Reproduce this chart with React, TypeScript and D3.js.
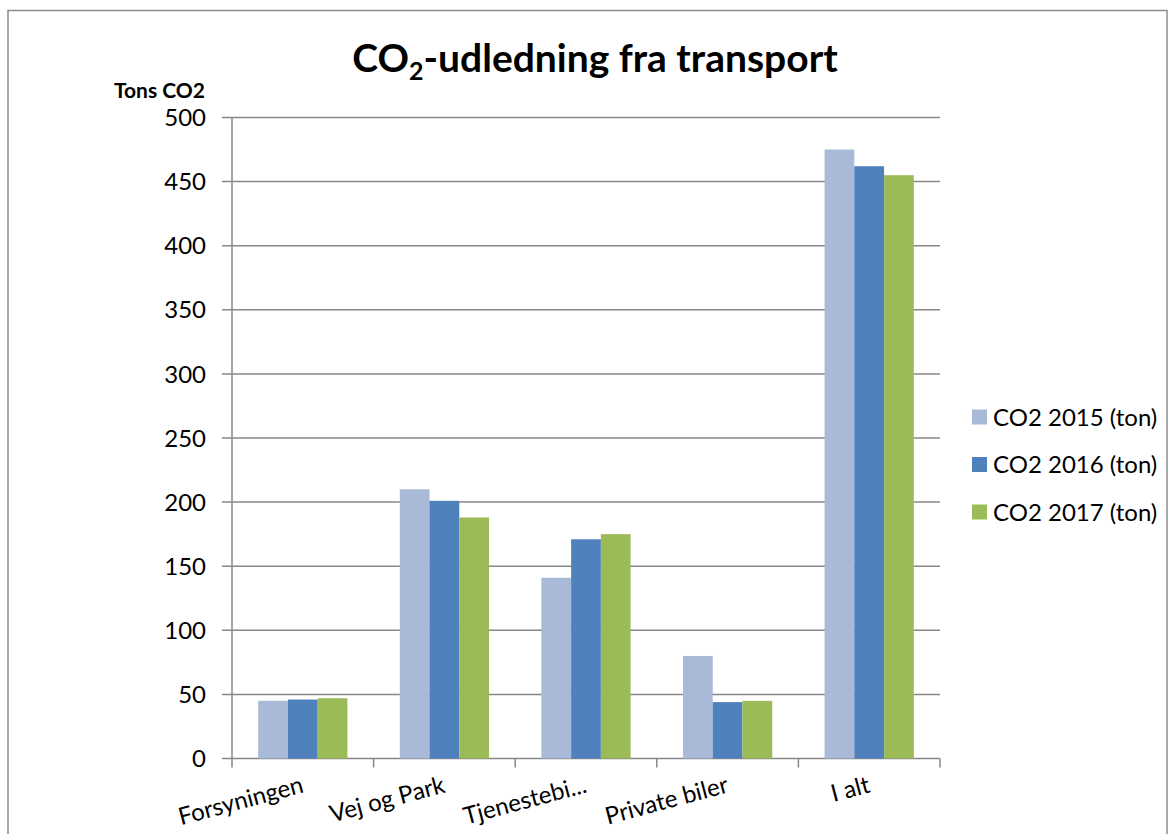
import React from "react";
import * as d3 from "d3";

const categories = ["Forsyningen", "Vej og Park", "Tjenestebi...", "Private biler", "I alt"];
const seriesNames = ["CO2 2015 (ton)", "CO2 2016 (ton)", "CO2 2017 (ton)"];
const co2_2015 = [45, 210, 141, 80, 475];
const co2_2016 = [46, 201, 171, 44, 462];
const co2_2017 = [47, 188, 175, 45, 455];
const yTicks = [0, 50, 100, 150, 200, 250, 300, 350, 400, 450, 500];
const colors = ["#A9B9D8", "#4F81BD", "#9BBB59"];

const W = 1170;
const H = 834;
const font = "Lato, 'Open Sans', sans-serif";

export default function App() {
  const series = [co2_2015, co2_2016, co2_2017];
  const left = 232, right = 940, top = 117.5, bottom = 758.5;

  const x = d3.scaleBand().domain(categories).range([left, right]).paddingInner(0).paddingOuter(0);
  const xInner = d3.scaleBand().domain(seriesNames).range([0, x.bandwidth()]).paddingInner(0).paddingOuter(0.88);
  const y = d3.scaleLinear().domain([0, 500]).range([bottom, top]);

  const gridColor = "#878787";

  return (
    <svg width={W} height={H} style={{ position: "absolute", left: 0, top: 0 }} fontFamily={font}>
      <rect x={8} y={10.5} width={1159} height={840} fill="white" stroke="#8c8c8c" strokeWidth={1.5} />

      {/* title */}
      <text x={595} y={72} textAnchor="middle" fontSize={39} fontWeight="bold" fill="#000">
        CO<tspan fontSize={25} dy={8}>2</tspan><tspan dy={-8}>-udledning fra transport</tspan>
      </text>

      <text x={205} y={98} textAnchor="end" fontSize={21} fontWeight="bold">Tons CO2</text>

      {/* grid + y ticks */}
      {yTicks.map((t) => (
        <g key={t}>
          <line x1={222} x2={right} y1={y(t)} y2={y(t)} stroke={gridColor} strokeWidth={1.5} />
          <text x={206} y={y(t)} dy="0.36em" textAnchor="end" fontSize={24} fill="#000">{t}</text>
        </g>
      ))}
      <line x1={left} x2={left} y1={top} y2={bottom} stroke={gridColor} strokeWidth={1.5} />

      {/* x ticks */}
      {categories.map((c) => (
        <line key={c} x1={x(c)!} x2={x(c)!} y1={bottom} y2={bottom + 9} stroke={gridColor} strokeWidth={1.5} />
      ))}
      <line x1={right} x2={right} y1={bottom} y2={bottom + 9} stroke={gridColor} strokeWidth={1.5} />

      {/* bars */}
      {series.map((vals, si) =>
        categories.map((c, ci) => (
          <rect
            key={`${si}-${ci}`}
            x={x(c)! + xInner(seriesNames[si])!}
            y={y(vals[ci])}
            width={xInner.bandwidth()}
            height={y(0) - y(vals[ci])}
            fill={colors[si]}
          />
        ))
      )}

      {/* x labels */}
      {categories.map((c) => {
        const cx = x(c)! + x.bandwidth() / 2 + 2;
        return (
          <text key={c} transform={`translate(${cx},${792}) rotate(-15)`} textAnchor="end" fontSize={24} fill="#000">
            {c}
          </text>
        );
      })}

      {/* legend */}
      {seriesNames.map((s, i) => (
        <g key={s} transform={`translate(972,${417 + i * 47.5})`}>
          <rect x={0} y={-7.5} width={15} height={15} fill={colors[i]} />
          <text x={21} y={0} dy="0.36em" fontSize={24} fill="#000">{s}</text>
        </g>
      ))}
    </svg>
  );
}
